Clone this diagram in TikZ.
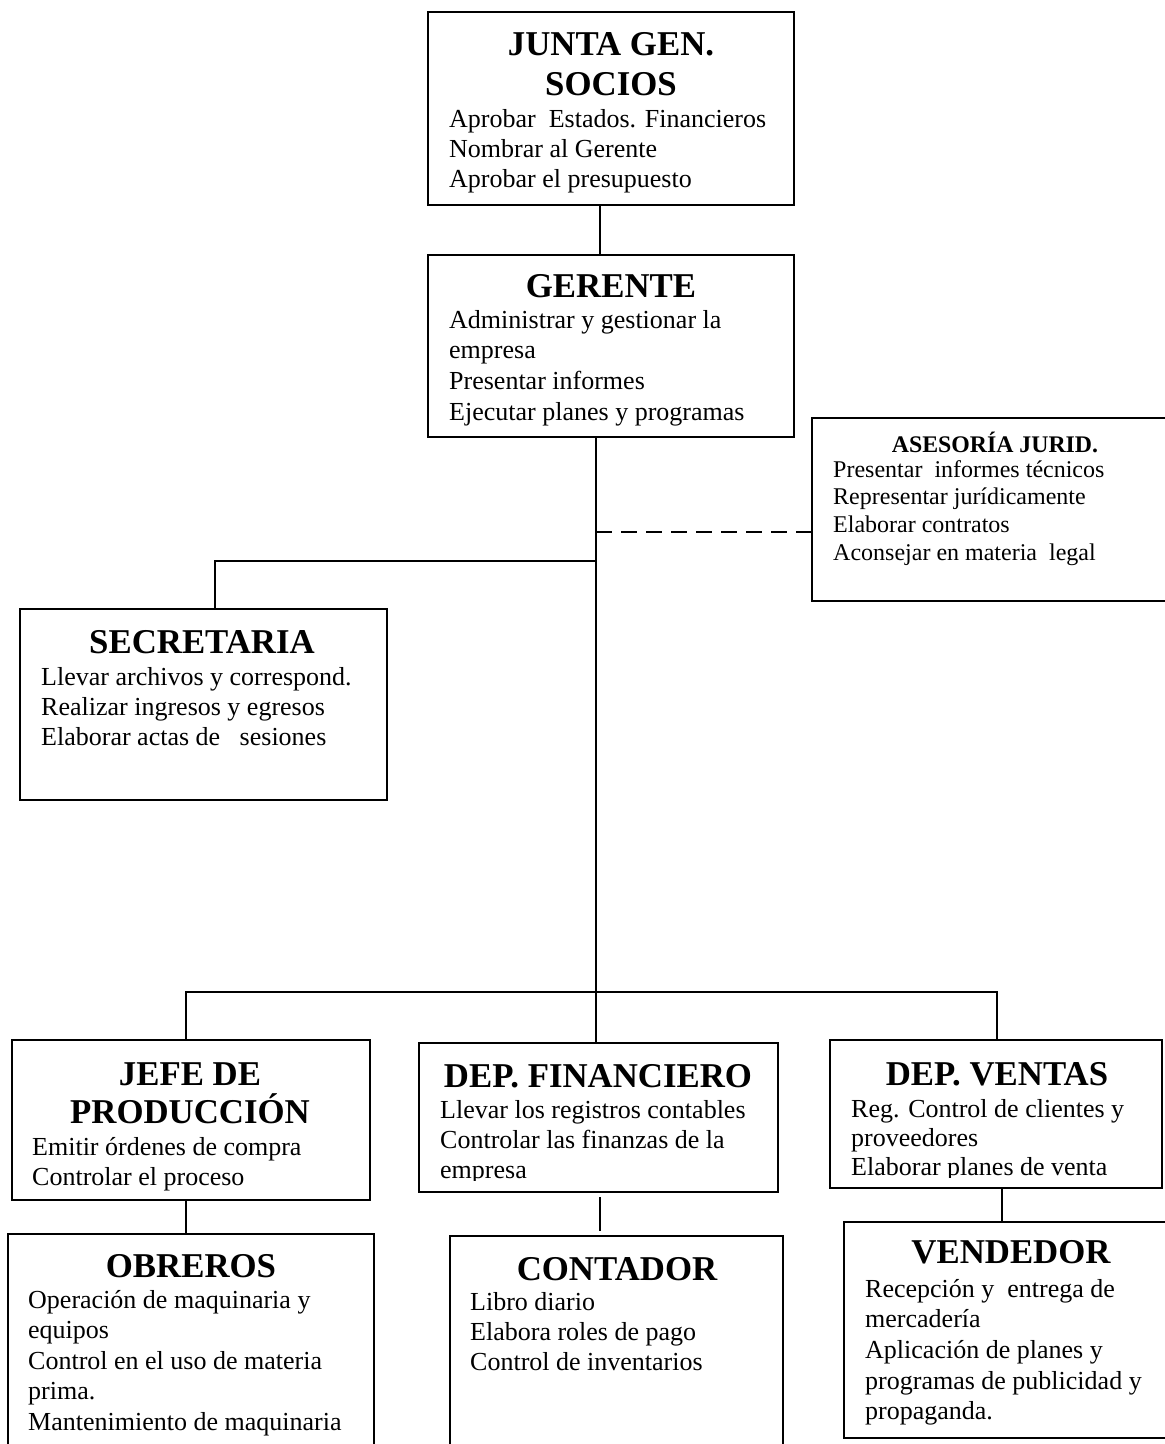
\documentclass[tikz,border=0pt]{standalone}
\usepackage{fontspec}
\setmainfont{Liberation Serif}

\tikzset{
  box/.style={draw, line width=1.5pt, inner sep=0pt, outer sep=0pt},
  title/.style={font=\fontsize{34.8}{40}\selectfont\bfseries, inner sep=0pt, anchor=base},
  smalltitle/.style={font=\fontsize{23.8}{27}\selectfont\bfseries, inner sep=0pt, anchor=base},
  body/.style={font=\fontsize{26}{30}\selectfont, inner sep=0pt, anchor=base west},
  smallbody/.style={font=\fontsize{24}{27.7}\selectfont, inner sep=0pt, anchor=base west},
  link/.style={line width=1.5pt},
  advice/.style={line width=1.5pt, dash pattern=on 16pt off 9pt},
}

% one node per text line: style, name, x, first baseline, line skip, lines
\newcommand\orgLines[6]{%
  \foreach \t [count=\i] in {#6}{\node[#1] (#2-\i) at (#3,{#4+(\i-1)*#5}) {\t};}}

\begin{document}
\begin{tikzpicture}[x=1pt,y=-1pt]
\fill[white] (0,0) rectangle (1165,1444);
\useasboundingbox (0,0) rectangle (1165,1444);
\clip (0,0) rectangle (1165,1444);

% boxes
\node[box, minimum width=366pt, minimum height=193pt] (junta)      at (611,108.5)  {};
\node[box, minimum width=366pt, minimum height=182pt] (gerente)    at (611,346)    {};
\node[box, minimum width=368pt, minimum height=183pt] (asesoria)   at (996,509.5)  {};
\node[box, minimum width=367pt, minimum height=191pt] (secretaria) at (203.5,704.5){};
\node[box, minimum width=358pt, minimum height=160pt] (jefe)       at (191,1120)   {};
\node[box, minimum width=359pt, minimum height=149pt] (depfin)     at (598.5,1117.5){};
\node[box, minimum width=332pt, minimum height=148pt] (ventas)     at (996,1114)   {};
\node[box, minimum width=366pt, minimum height=226pt] (obreros)    at (191,1347)   {};
\node[box, minimum width=333pt, minimum height=224pt] (contador)   at (616.5,1348) {};
\node[box, minimum width=336pt, minimum height=216pt] (vendedor)   at (1012,1330)  {};

% titles
\node[title] (junta-t1)   at (611,55)   {JUNTA GEN.};
\node[title] (junta-t2)   at (611,95)   {SOCIOS};
\node[title] (gerente-t)  at (611,297)  {GERENTE};
\node[smalltitle] (asesoria-t) at (995,452) {ASESORÍA JURID.};
\node[title] (secretaria-t) at (202,653) {SECRETARIA};
\node[title] (jefe-t1)    at (190,1085) {JEFE DE};
\node[title] (jefe-t2)    at (190,1123) {PRODUCCIÓN};
\node[title] (depfin-t)   at (598,1087) {DEP. FINANCIERO};
\node[title] (ventas-t)   at (997,1085) {DEP. VENTAS};
\node[title] (obreros-t)  at (191,1277) {OBREROS};
\node[title] (contador-t) at (617,1280) {CONTADOR};
\node[title] (vendedor-t) at (1011,1263) {VENDEDOR};

% duties
\orgLines{body}{junta}{449}{127}{30}{Aprobar\ \ Estados. Financieros, Nombrar al Gerente, Aprobar el presupuesto}
\orgLines{body}{gerente}{449}{328}{30.7}{Administrar y gestionar la, empresa, Presentar informes, Ejecutar planes y programas}
\orgLines{smallbody}{asesoria}{833}{477}{27.7}{Presentar\ \ informes técnicos, Representar jurídicamente, Elaborar contratos, Aconsejar en materia\ \ legal}
\orgLines{body}{secretaria}{41}{685}{30}{Llevar archivos y correspond., Realizar ingresos y egresos, Elaborar actas de\ \ \ sesiones}
\orgLines{body}{jefe}{32}{1155}{30}{Emitir órdenes de compra, Controlar el proceso}
\orgLines{body}{obreros}{28}{1308}{30.5}{Operación de maquinaria y, equipos, Control en el uso de materia, prima., Mantenimiento de maquinaria}
\begin{scope}
  \clip (419,1043) rectangle (778,1180);
  \orgLines{body}{depfin}{440}{1118}{30}{Llevar los registros contables, Controlar las finanzas de la, empresa}
\end{scope}
\orgLines{body}{contador}{470}{1310}{30}{Libro diario, Elabora roles de pago, Control de inventarios}
\begin{scope}
  \clip (830,1040) rectangle (1162,1177);
  \orgLines{body}{ventas}{851}{1117}{29}{Reg. Control de clientes y, proveedores, Elaborar planes de venta}
\end{scope}
\orgLines{body}{vendedor}{865}{1297}{30.7}{Recepción y\ \ entrega de, mercadería, Aplicación de planes y, programas de publicidad y, propaganda.}

% connectors
\coordinate (trunk) at (596,0);
\coordinate (jg)    at (600,0);
\coordinate (secx)  at (215,561);
\coordinate (dashy) at (0,532);
\coordinate (jx)    at (186,992);
\coordinate (vx)    at (997,992);
\coordinate (cx)    at (600,0);
\coordinate (vdx)   at (1002,0);

\draw[link] (junta.south -| jg) -- (gerente.north -| jg);
\draw[link] (gerente.south -| trunk) -- (depfin.north -| trunk);
\draw[link] (secretaria.north -| secx) -- (secx) -- (secx -| trunk);
\draw[advice] (dashy -| trunk) -- (dashy -| asesoria.west);
\draw[link] (jefe.north -| jx) -- (jx) -- (vx) -- (ventas.north -| vx);
\draw[link] (jefe.south -| jx) -- (obreros.north -| jx);
\draw[link] ([yshift=-5pt]depfin.south -| cx) -- ([yshift=5pt]contador.north -| cx);
\draw[link] (ventas.south -| vdx) -- (vendedor.north -| vdx);
\end{tikzpicture}
\end{document}
